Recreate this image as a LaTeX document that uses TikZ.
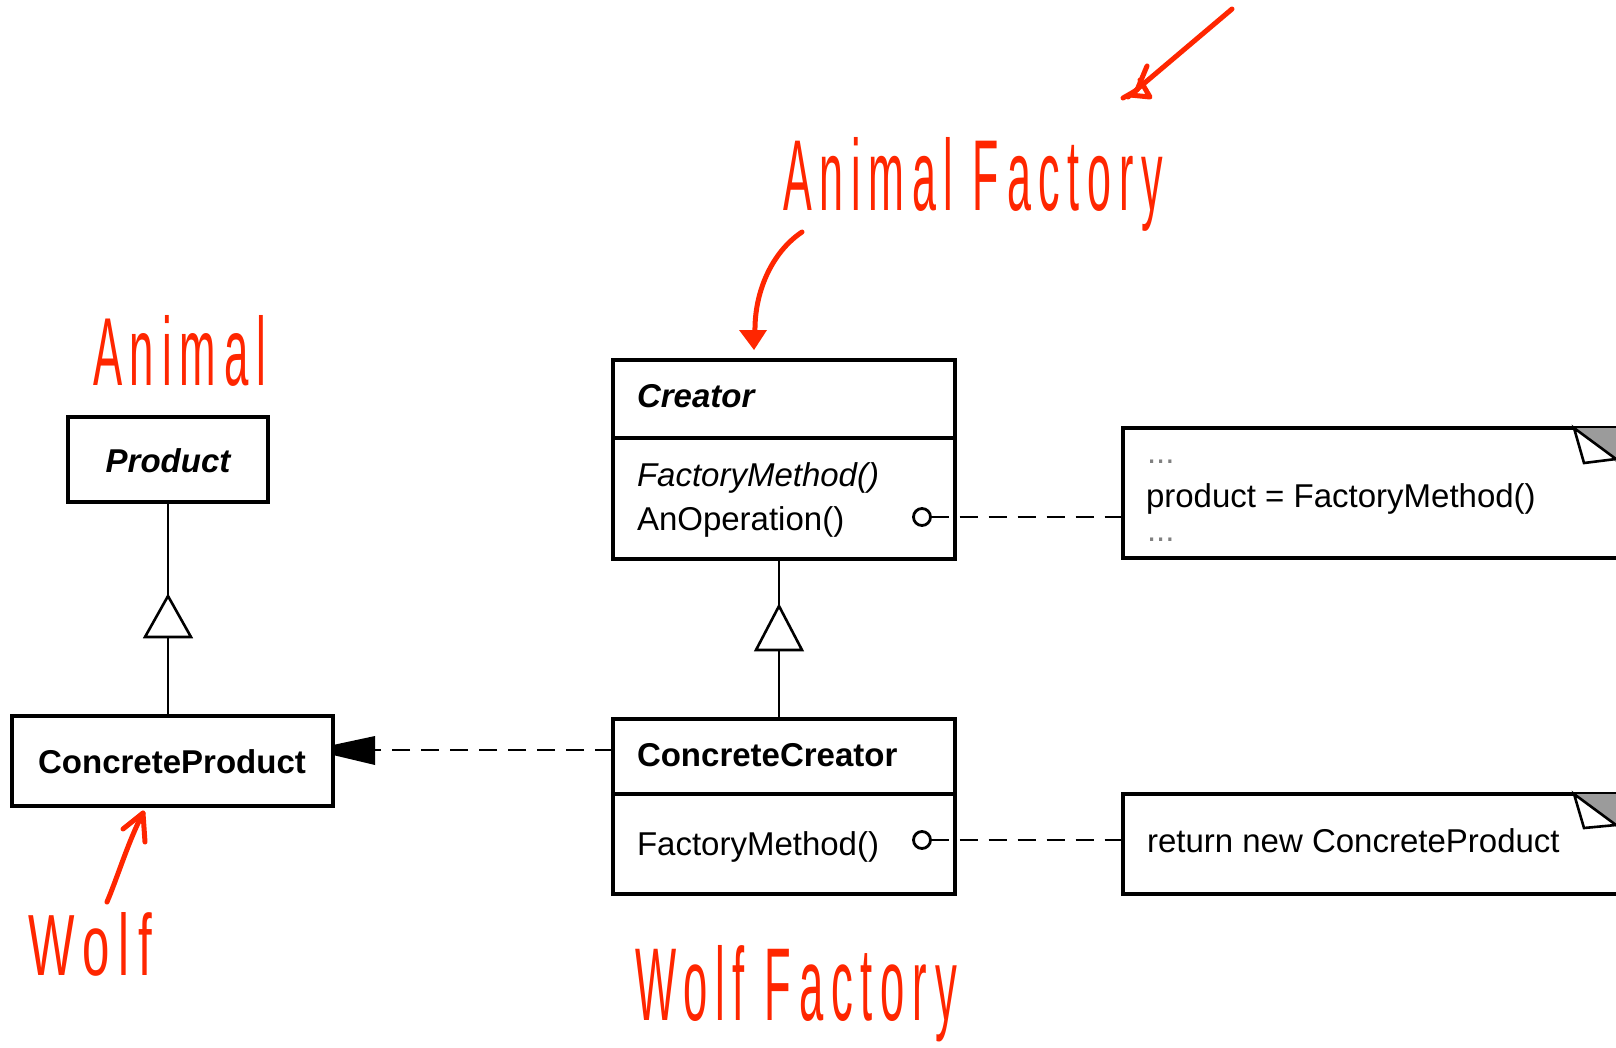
\documentclass[tikz,border=0pt]{standalone}
\usepackage{fontspec}
\setmainfont{Liberation Sans}
\newfontfamily\handfont[LetterSpace=18]{Liberation Sans}
\usetikzlibrary{calc}
\definecolor{ink}{RGB}{255,38,0}
\definecolor{foldgray}{RGB}{155,155,155}
% hand-lettered annotation squeezed into a given width and height
\newcommand{\handtext}[3]{\resizebox{#1pt}{#2pt}{\handfont #3}}

\begin{document}
\begin{tikzpicture}[x=1pt,y=-1pt,
  umlbox/.style={draw, line width=3.3pt, inner sep=0pt, outer sep=0pt, anchor=north west},
  lbl/.style={inner sep=0pt, outer sep=0pt, anchor=base west, font=\fontsize{33}{40}\selectfont},
  dashline/.style={line width=2.9pt, dash pattern=on 18pt off 11pt},
  solidline/.style={line width=2.9pt},
  gentri/.style={draw, fill=white, line width=2.6pt, line join=miter},
  lolly/.style={draw, circle, minimum size=17pt, inner sep=0pt, outer sep=0pt, line width=2.8pt, fill=white},
  hand/.style={draw=ink, line width=5pt, line cap=round, line join=round},
  handlbl/.style={text=ink, inner sep=0pt, outer sep=0pt, anchor=base west},
  foldtri/.style={draw, fill=white, line width=2.6pt, line join=miter}
]
\clip (0,0) rectangle (1616,1047);
\fill[white] (0,0) rectangle (1616,1047);

% ---------- class boxes ----------
\node[umlbox, minimum width=200pt, minimum height=85pt] (product) at (68,417) {};
\node[umlbox, minimum width=321pt, minimum height=90pt] (cproduct) at (12,716) {};
\node[umlbox, minimum width=342pt, minimum height=199pt] (creator) at (613,360) {};
\node[umlbox, minimum width=342pt, minimum height=175pt] (ccreator) at (613,719) {};
\draw[line width=3.3pt] (creator.west |- 0,438) -- (creator.east |- 0,438);
\draw[line width=3.3pt] (ccreator.west |- 0,794) -- (ccreator.east |- 0,794);

% ---------- notes ----------
\node[umlbox, minimum width=520pt, minimum height=130pt] (note1) at (1123,428) {};
\node[umlbox, minimum width=520pt, minimum height=100pt] (note2) at (1123,794) {};
\fill[foldgray] (1576,428) -- (1616,428) -- (1616,462) -- cycle;
\draw[foldtri] (1574,428) -- (1584,463) -- (1616,459) -- cycle;
\fill[foldgray] (1576,794) -- (1616,794) -- (1616,827) -- cycle;
\draw[foldtri] (1574,794) -- (1584,828) -- (1616,825) -- cycle;

% ---------- texts ----------
\node[lbl, font=\fontsize{33}{40}\selectfont\bfseries\itshape, anchor=base] (tproduct) at (168,472) {Product};
\node[lbl, font=\fontsize{33}{40}\selectfont\bfseries, anchor=base] (tcproduct) at (172,773) {ConcreteProduct};
\node[lbl, font=\fontsize{33}{40}\selectfont\bfseries\itshape] (tcreator) at (637,407) {Creator};
\node[lbl, font=\fontsize{33}{40}\selectfont\itshape] (tfm1) at (637,486) {FactoryMethod()};
\node[lbl] (tanop) at (637,530) {AnOperation()};
\node[lbl, font=\fontsize{33}{40}\selectfont\bfseries] (tccreator) at (637,766) {ConcreteCreator};
\node[lbl] (tfm2) at (637,855) {FactoryMethod()};
\node[lbl, text=gray] (dots1) at (1147,463) {...};
\node[lbl] (tnote1) at (1146,507) {product = FactoryMethod()};
\node[lbl, text=gray] (dots2) at (1147,541) {...};
\node[lbl] (tnote2) at (1147,852) {return new ConcreteProduct};

% ---------- generalizations ----------
\coordinate (gen1) at (168,596);
\coordinate (gen2) at (779,606);
\draw[solidline] (product.south -| gen1) -- (cproduct.north -| gen1);
\draw[gentri] (gen1) -- ++(-23,41) -- ++(46,0) -- cycle;
\draw[solidline] (creator.south -| gen2) -- (ccreator.north -| gen2);
\draw[gentri] (gen2) -- ++(-23,44) -- ++(46,0) -- cycle;

% ---------- dependency ----------
\coordinate (dep) at (613,750);
\draw[dashline] (dep) -- (cproduct.east |- dep);
\fill (cproduct.east |- 0,745) -- (375,736) -- (375,765) -- (cproduct.east |- 0,755) -- cycle;

% ---------- note attachments ----------
\node[lolly] (op1) at (922,517) {};
\node[lolly] (op2) at (922,840) {};
\draw[dashline] (op1.east) -- (op1 -| note1.west);
\draw[dashline] (op2.east) -- (op2 -| note2.west);

% ---------- hand-drawn annotations ----------
\node[handlbl] (hanimal) at (93,385) {\handtext{173}{70}{Animal}};
\node[handlbl] (hfactory) at (783,210) {\handtext{380}{73}{Animal Factory}};
\node[handlbl] (hwolf) at (28,975) {\handtext{124}{63}{Wolf}};
\node[handlbl] (hwfactory) at (635,1020) {\handtext{322}{75}{Wolf Factory}};

% arrow from the "Animal Factory" label down to Creator
\coordinate (af0) at (802,232);
\coordinate (af1) at (754,350);
\draw[hand] (af0) .. controls (772,252) and (754,292) .. (755,333);
\fill[ink] (739,330) -- (767,330) -- (af1) -- cycle;

% arrow from the "Wolf" label up to ConcreteProduct
\coordinate (w0) at (107,902);
\coordinate (w1) at (143,813);
\draw[hand] (w0) .. controls (118,876) and (128,842) .. (w1);
\draw[hand] (123,829) -- (w1) -- (145,842);

% stray arrow at the top right
\coordinate (s0) at (1232,9);
\coordinate (s1) at (1128,97);
\draw[hand] (s0) -- (s1);
\draw[hand] (1147,66) -- (1137,90) -- (1123,98);
\draw[hand] (1130,95) -- (1150,97) -- (1140,80);
\end{tikzpicture}
\end{document}
